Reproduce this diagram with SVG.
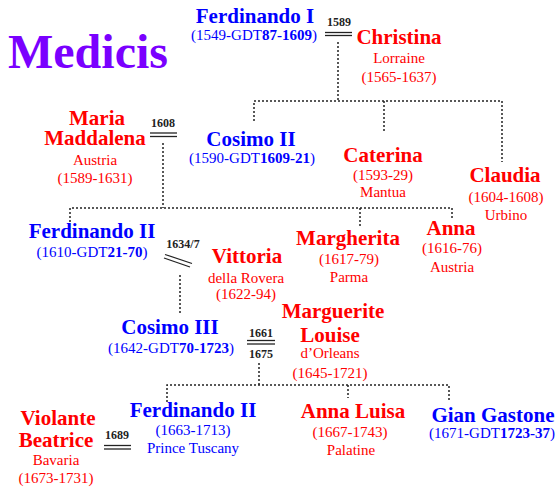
<svg xmlns="http://www.w3.org/2000/svg" width="557" height="489" viewBox="0 0 557 489">
<style>
text{font-family:"Liberation Serif","Times New Roman",serif;text-anchor:middle}
.t{font-size:48px;font-weight:bold;fill:#7a00ff;text-anchor:start}
.nb{font-size:21px;font-weight:bold;fill:#0000ff}
.nr{font-size:21px;font-weight:bold;fill:#ff0000}
.sb{font-size:15px;fill:#0000ff}
.sr{font-size:15px;fill:#ff0000}
.b{font-weight:bold}
.y{font-size:12px;font-weight:bold;fill:#222}
.dot{fill:none;stroke:#222;stroke-width:1.5;stroke-dasharray:2 2}
.m{stroke:#222;stroke-width:1.3;fill:none}
</style>
<rect width="557" height="489" fill="#fff"/>
<text class="t" x="8" y="68">Medicis</text>

<g id="connectors">
<polyline class="dot" points="338,42 338,101"/>
<polyline class="dot" points="254,121 254,101 502,101 502,162"/>
<polyline class="dot" points="384,101 384,132"/>
<polyline class="dot" points="163,143 163,208"/>
<polyline class="dot" points="70,222 70,208 452,208 452,220"/>
<polyline class="dot" points="360,208 360,228"/>
<polyline class="dot" points="180,275 180,314"/>
<polyline class="dot" points="259,363 259,385"/>
<polyline class="dot" points="167,402 167,385 449,385 449,402"/>
<polyline class="dot" points="348,385 348,398"/>
</g>

<g id="m1589">
<text class="y" x="339" y="26">1589</text>
<line class="m" x1="325" y1="32.5" x2="352" y2="32.5"/>
<line class="m" x1="325" y1="35.5" x2="352" y2="35.5"/>
</g>
<g id="m1608">
<text class="y" x="163" y="127">1608</text>
<line class="m" x1="150" y1="133" x2="177" y2="133"/>
<line class="m" x1="150" y1="136.5" x2="177" y2="136.5"/>
</g>
<g id="m1634">
<text class="y" x="183" y="248">1634/7</text>
<line class="m" x1="165" y1="254.5" x2="192" y2="263.5"/>
<line class="m" x1="164" y1="258" x2="190" y2="267"/>
</g>
<g id="m1661">
<text class="y" x="261" y="337">1661</text>
<line class="m" x1="247" y1="340.5" x2="275" y2="340.5"/>
<line class="m" x1="247" y1="344" x2="275" y2="344"/>
<text class="y" x="261" y="358">1675</text>
</g>
<g id="m1689">
<text class="y" x="117" y="439">1689</text>
<line class="m" x1="104" y1="445.5" x2="131" y2="445.5"/>
<line class="m" x1="104" y1="449" x2="131" y2="449"/>
</g>

<g id="ferdinando1">
<text class="nb" x="255" y="23">Ferdinando I</text>
<text class="sb" x="254" y="40">(1549-GDT<tspan class="b">87-1609</tspan>)</text>
</g>
<g id="christina">
<text class="nr" x="399" y="44">Christina</text>
<text class="sr" x="399" y="63">Lorraine</text>
<text class="sr" x="399" y="82">(1565-1637)</text>
</g>
<g id="mariamaddalena">
<text class="nr" x="97" y="125">Maria</text>
<text class="nr" x="95" y="145">Maddalena</text>
<text class="sr" x="95" y="165">Austria</text>
<text class="sr" x="95" y="183">(1589-1631)</text>
</g>
<g id="cosimo2">
<text class="nb" x="251" y="146">Cosimo II</text>
<text class="sb" x="252" y="163">(1590-GDT<tspan class="b">1609-21</tspan>)</text>
</g>
<g id="caterina">
<text class="nr" x="383" y="162">Caterina</text>
<text class="sr" x="383" y="180">(1593-29)</text>
<text class="sr" x="383" y="197">Mantua</text>
</g>
<g id="claudia">
<text class="nr" x="505" y="182">Claudia</text>
<text class="sr" x="506" y="202">(1604-1608)</text>
<text class="sr" x="506" y="220">Urbino</text>
</g>
<g id="ferdinando2">
<text class="nb" x="92" y="238">Ferdinando II</text>
<text class="sb" x="92" y="257">(1610-GDT<tspan class="b">21-70</tspan>)</text>
</g>
<g id="vittoria">
<text class="nr" x="247" y="263">Vittoria</text>
<text class="sr" x="246" y="283">della Rovera</text>
<text class="sr" x="246" y="299">(1622-94)</text>
</g>
<g id="margherita">
<text class="nr" x="348" y="245">Margherita</text>
<text class="sr" x="349" y="264">(1617-79)</text>
<text class="sr" x="349" y="282">Parma</text>
</g>
<g id="anna">
<text class="nr" x="451" y="235">Anna</text>
<text class="sr" x="452" y="253">(1616-76)</text>
<text class="sr" x="452" y="272">Austria</text>
</g>
<g id="cosimo3">
<text class="nb" x="170" y="334">Cosimo III</text>
<text class="sb" x="171" y="353">(1642-GDT<tspan class="b">70-1723</tspan>)</text>
</g>
<g id="marguerite">
<text class="nr" x="333" y="318">Marguerite</text>
<text class="nr" x="330" y="342">Louise</text>
<text class="sr" x="330" y="358">d’Orleans</text>
<text class="sr" x="330" y="378">(1645-1721)</text>
</g>
<g id="violante">
<text class="nr" x="58" y="425">Violante</text>
<text class="nr" x="56" y="447">Beatrice</text>
<text class="sr" x="56" y="465">Bavaria</text>
<text class="sr" x="56" y="483">(1673-1731)</text>
</g>
<g id="ferdinandoprince">
<text class="nb" x="193" y="417">Ferdinando II</text>
<text class="sb" x="193" y="435">(1663-1713)</text>
<text class="sb" x="193" y="453">Prince Tuscany</text>
</g>
<g id="annaluisa">
<text class="nr" x="353" y="418">Anna Luisa</text>
<text class="sr" x="350" y="437">(1667-1743)</text>
<text class="sr" x="351" y="455">Palatine</text>
</g>
<g id="giangastone">
<text class="nb" x="493" y="422">Gian Gastone</text>
<text class="sb" x="492" y="438">(1671-GDT<tspan class="b">1723-37</tspan>)</text>
</g>
</svg>
